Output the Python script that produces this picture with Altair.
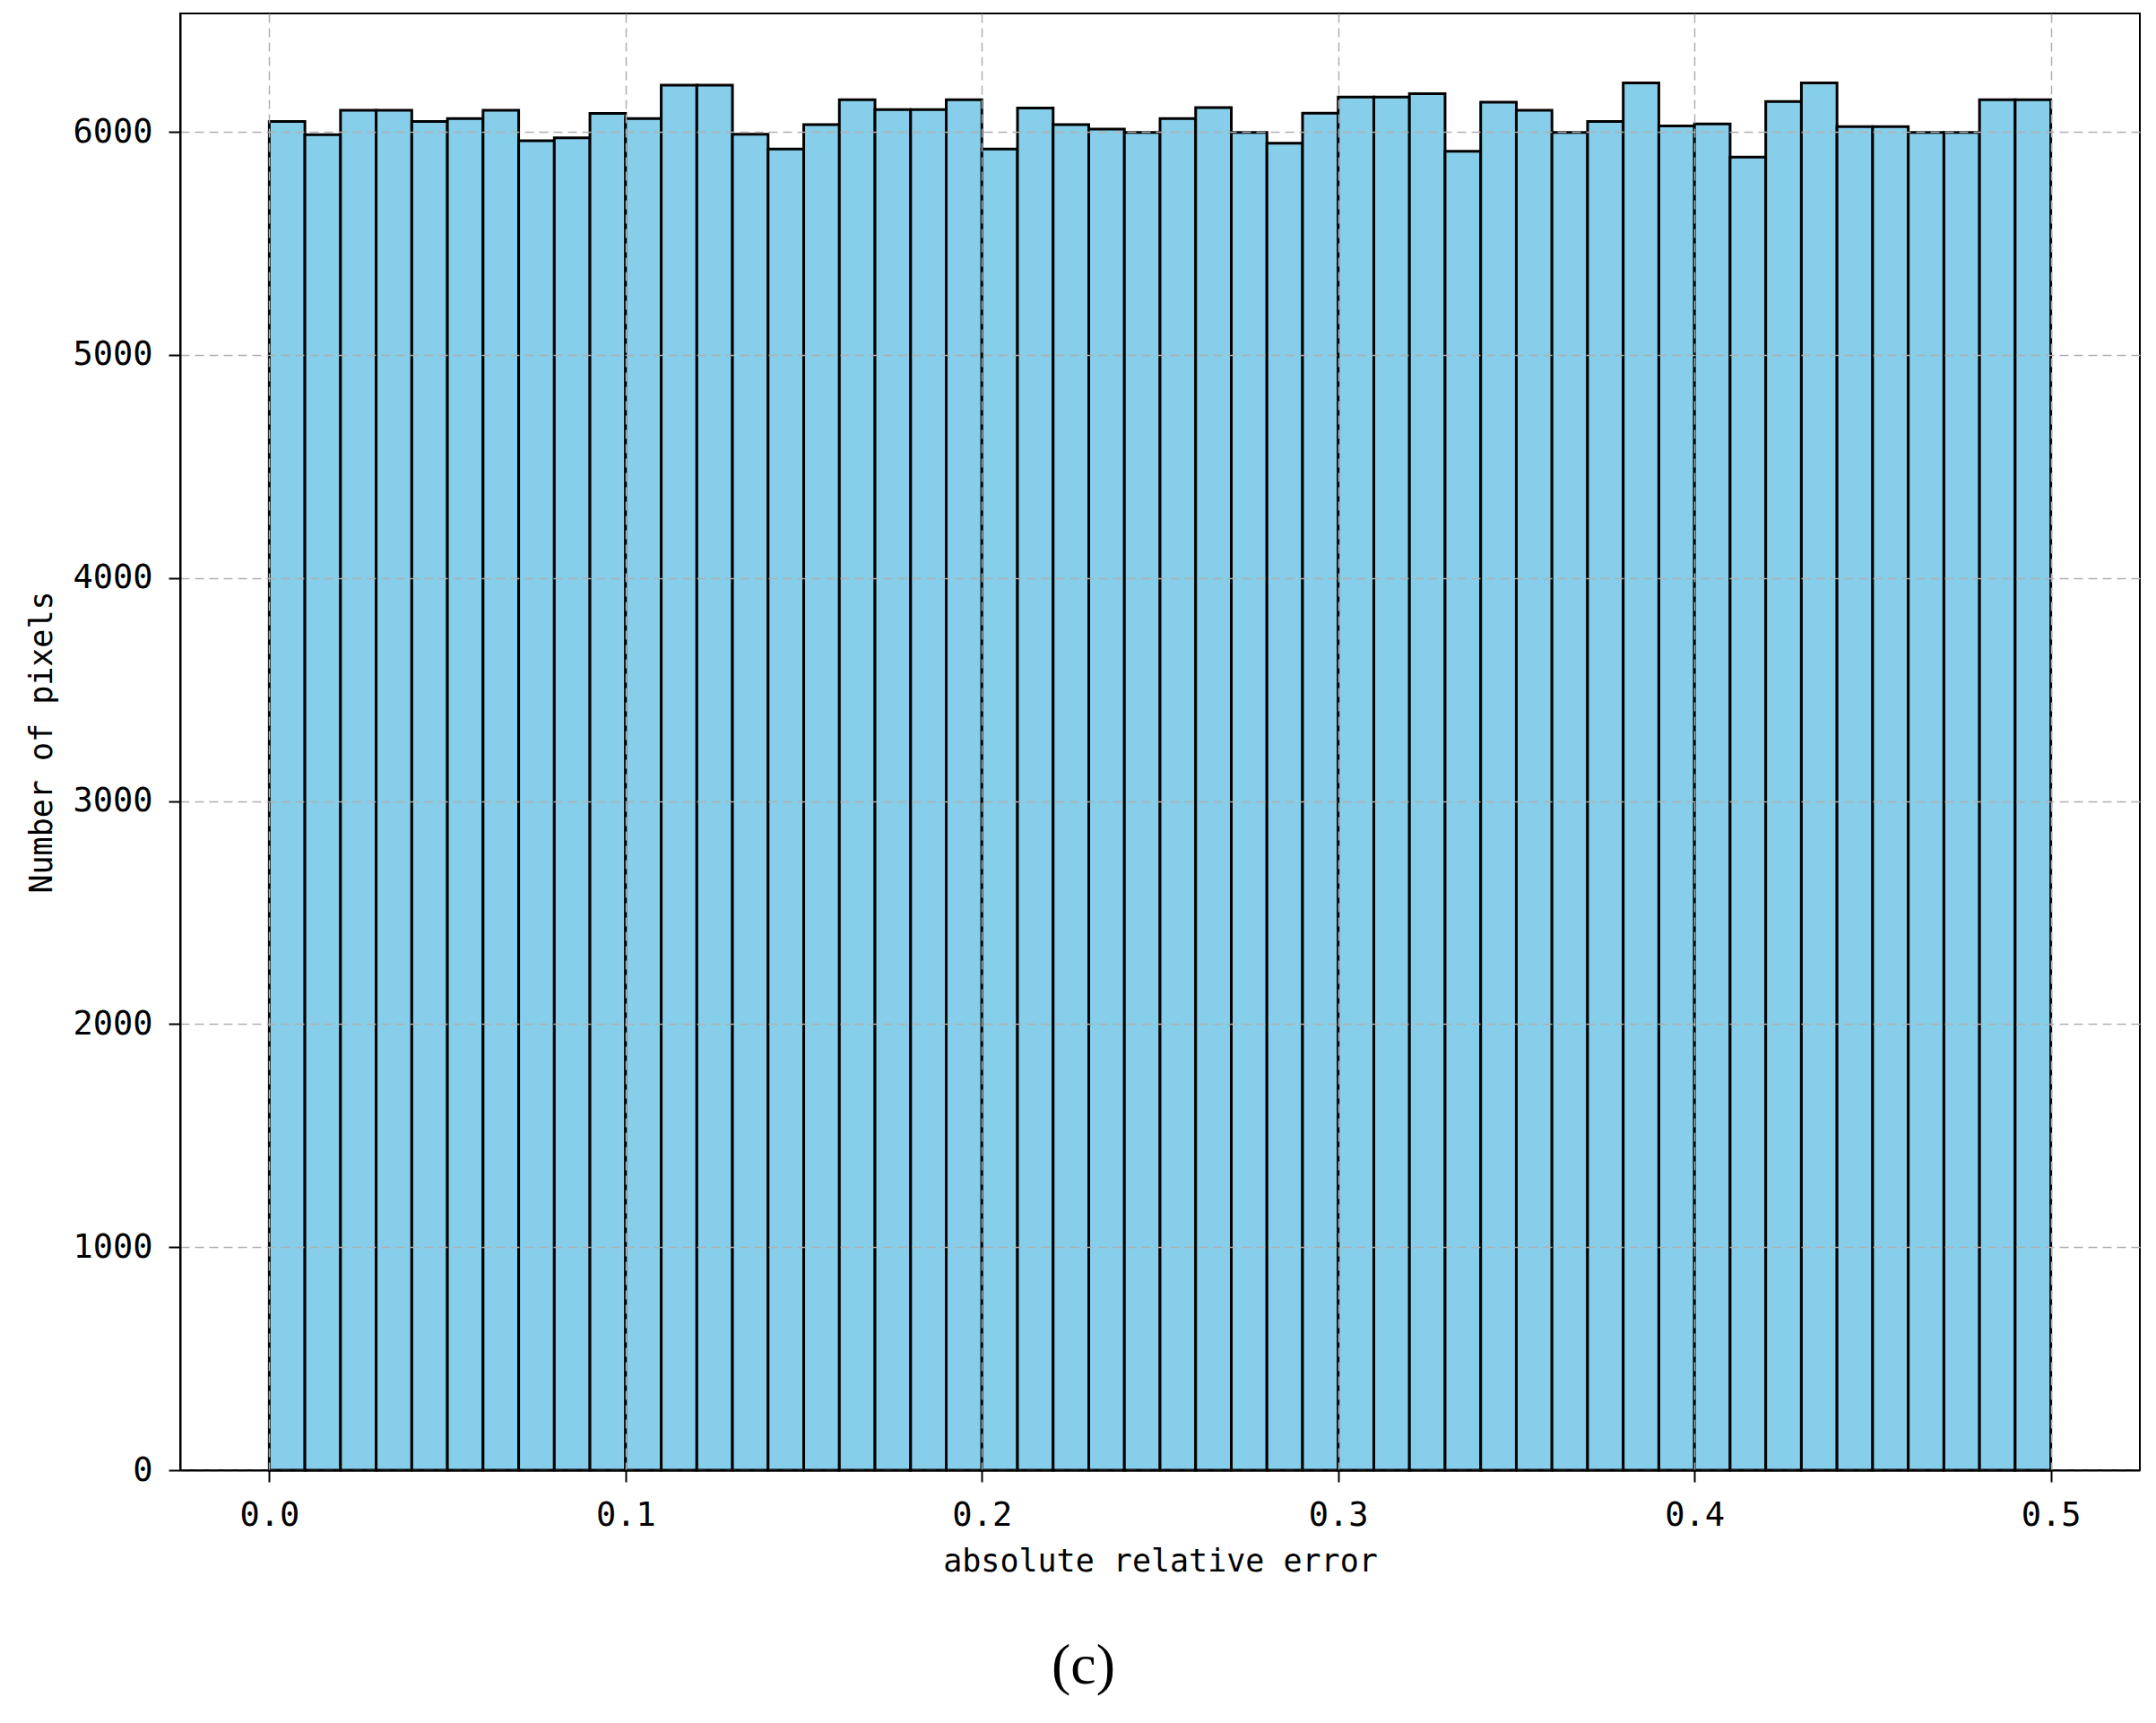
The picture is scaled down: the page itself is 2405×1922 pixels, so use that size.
import altair as alt
import pandas as pd

bin_width = 0.01
counts = [6047, 5987, 6097, 6097, 6047, 6060, 6097, 5960, 5973, 6083,
          6060, 6209, 6209, 5989, 5923, 6033, 6144, 6100, 6100, 6144,
          5923, 6107, 6033, 6013, 5997, 6060, 6109, 5997, 5949, 6084,
          6156, 6156, 6171, 5913, 6133, 6097, 5997, 6047, 6220, 6027,
          6036, 5887, 6136, 6220, 6024, 6024, 5997, 5997, 6144, 6144]
bin_start = [round(i * bin_width, 2) for i in range(len(counts))]
bin_end = [round(s + bin_width, 2) for s in bin_start]
x_ticks = [0.0, 0.1, 0.2, 0.3, 0.4, 0.5]
y_ticks = [0, 1000, 2000, 3000, 4000, 5000, 6000]

df = pd.DataFrame({"start": bin_start, "end": bin_end, "count": counts})

mono = "DejaVu Sans Mono"
common_axis = dict(
    labelFont=mono, labelFontSize=37, labelColor="black",
    titleFont=mono, titleFontSize=35, titleFontWeight="normal", titleColor="black",
    tickSize=13, tickColor="black", tickWidth=2,
    domainColor="black", domainWidth=2,
    grid=True, gridColor="#b0b0b0", gridDash=[10, 6], gridWidth=1.5,
    zindex=1,
)

chart = alt.Chart(df).mark_bar(
    fill="#87CEEB", stroke="black", strokeWidth=3
).encode(
    x=alt.X("start:Q",
            scale=alt.Scale(domain=[-0.025, 0.525], nice=False, zero=False),
            axis=alt.Axis(values=x_ticks, format=".1f", title="absolute relative error",
                          labelPadding=19, titlePadding=16, **common_axis)),
    x2="end:Q",
    y=alt.Y("count:Q",
            scale=alt.Scale(domain=[0, 6531], nice=False),
            axis=alt.Axis(values=y_ticks, format="d", title="Number of pixels",
                          labelPadding=18, titlePadding=16, **common_axis)),
    y2=alt.datum(0),
).properties(
    width=2186, height=1625,
    padding={"left": 21, "top": 7, "right": 10, "bottom": 5},
    title=alt.TitleParams("(c)", orient="bottom", anchor="middle", frame="bounds",
                          font="Liberation Serif", fontSize=64, fontWeight="normal",
                          color="black", offset=68),
).configure_view(stroke="black", strokeWidth=2)

chart.save("out.html", embed_options={"renderer": "svg", "actions": False})
